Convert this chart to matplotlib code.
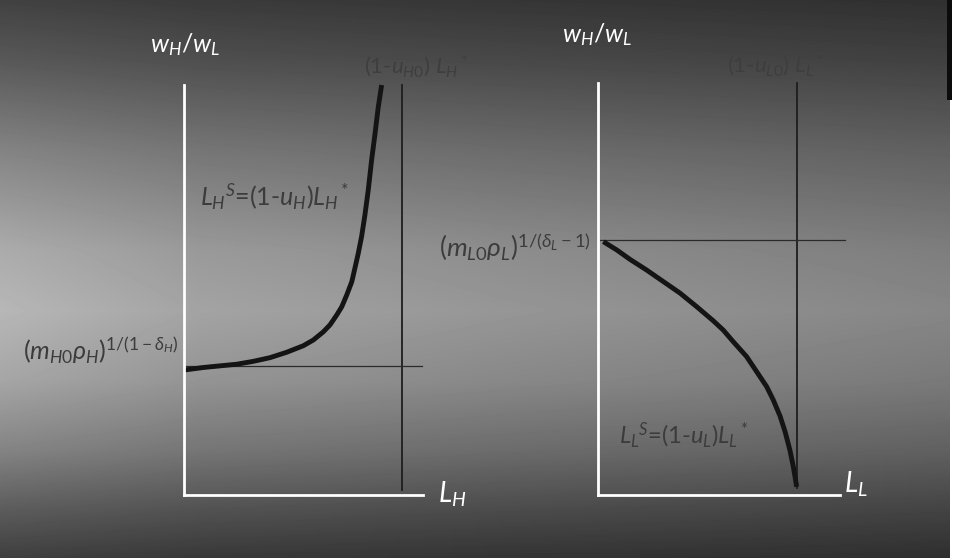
import numpy as np
import matplotlib
matplotlib.use("Agg")
import matplotlib.pyplot as plt

plt.rcParams['font.family'] = ['Lato', 'DejaVu Sans']
plt.rcParams['mathtext.fontset'] = 'custom'
plt.rcParams['mathtext.rm'] = 'Lato'
plt.rcParams['mathtext.it'] = 'Lato:italic'
plt.rcParams['mathtext.bf'] = 'Lato:bold'

# high-skill labour supply (left panel), L_H vs w_H/w_L, both scaled 0..100
LH = [0.4, 8.1, 15.1, 22.1, 29.0, 36.0, 42.9, 49.9, 54.1, 58.3, 61.1, 63.9,
      66.0, 68.1, 70.2, 71.5, 72.9, 74.3, 75.7, 77.1, 78.5, 79.9, 81.3, 82.7]
wH = [30.5, 31.1, 31.5, 31.9, 32.6, 33.5, 34.8, 36.4, 37.8, 39.8, 41.5, 43.9,
      45.9, 48.8, 52.0, 55.3, 58.9, 63.0, 68.3, 74.4, 81.7, 88.0, 94.7, 100]
LH_max = 91.2      # (1-u_H0) L_H*
wH_floor = 31.5    # (m_H0 rho_H)^(1/(1-delta_H))

# low-skill labour supply (right panel)
LL = [2.2, 7.7, 13.2, 20.1, 27.0, 33.9, 40.8, 47.6, 51.8, 55.9, 61.4, 65.6,
      69.7, 72.4, 75.2, 77.3, 79.3, 80.7, 82.1]
wL = [61.5, 59.5, 57.2, 54.6, 51.8, 49.0, 45.7, 42.3, 40.0, 37.2, 33.6, 29.9,
      26.3, 23.1, 19.2, 15.4, 10.9, 6.9, 2.0]
LL_max = 82.2      # (1-u_L0) L_L*
wL_cap = 61.9      # (m_L0 rho_L)^(1/(delta_L-1))

W, H = 959, 558
fig = plt.figure(figsize=(W / 100, H / 100), dpi=100)

# slide background: dark top and bottom, light band through the middle-left
bg = fig.add_axes([0, 0, 1, 1])
yy = np.arange(H)
xx = np.arange(W)
vert = np.interp(yy, [0, 60, 150, 250, 310, 380, 450, 510, 558],
                 [0.23, 0.31, 0.46, 0.60, 0.64, 0.58, 0.46, 0.32, 0.22])
horz = np.interp(xx, [0, 200, 500, 959], [1.12, 1.0, 0.92, 0.82])
img = np.clip(vert[:, None] * horz[None, :], 0, 1)
img[:, 950:] = 1.0
img[:100, 947:952] = 0.05
bg.imshow(img, cmap='gray', vmin=0, vmax=1, aspect='auto', interpolation='bilinear')
bg.axis('off')

dark = '#1e1e1e'
txt = '#3c3c3c'


def panel(rect):
    ax = fig.add_axes(rect)
    ax.set_xlim(0, 100)
    ax.set_ylim(0, 100)
    ax.patch.set_alpha(0)
    for s in ('top', 'right'):
        ax.spines[s].set_visible(False)
    for s in ('left', 'bottom'):
        ax.spines[s].set_color('white')
        ax.spines[s].set_linewidth(2)
    ax.set_xticks([])
    ax.set_yticks([])
    return ax


# left panel
ax1 = panel([184 / W, (H - 495) / H, 239 / W, 410 / H])
ax1.plot([LH_max, LH_max], [1.2, 100], color=dark, lw=1.3, clip_on=False)
ax1.plot([0, 99.6], [wH_floor, wH_floor], color='#2a2a2a', lw=0.9, clip_on=False)
ax1.plot(LH, wH, color='#141414', lw=3.5, solid_capstyle='butt',
         solid_joinstyle='round', clip_on=False)

# right panel
ax2 = panel([598 / W, (H - 495) / H, 242 / W, 412 / H])
ax2.plot([LL_max, LL_max], [1.7, 100], color=dark, lw=1.3, clip_on=False)
ax2.plot([0.8, 102], [wL_cap, wL_cap], color='#2a2a2a', lw=0.9, clip_on=False)
ax2.plot(LL, wL, color='#141414', lw=3.5, solid_capstyle='butt',
         solid_joinstyle='round', clip_on=False)


def ftext(x, y, s, **kw):
    fig.text(x / W, 1 - y / H, s, ha='center', va='center', **kw)


ftext(185, 45, r'$w_H$/$w_L$', color='white', fontsize=18)
ftext(597, 35, r'$w_H$/$w_L$', color='white', fontsize=18)
ftext(452, 494, r'$L_H$', color='white', fontsize=20)
ftext(856, 484, r'$L_L$', color='white', fontsize=20)

ftext(416, 66, r'(1-$u_{H0}$) $L_H$$^*$', color='#3e3e3e', fontsize=16)
ftext(775, 65, r'(1-$u_{L0}$) $L_L$$^*$', color='#3e3e3e', fontsize=16)

ftext(275, 197, r'$L_H$$^S$=(1-$u_H$)$L_H$$^*$', color=txt, fontsize=18)
ftext(684, 435, r'$L_L$$^S$=(1-$u_L$)$L_L$$^*$', color=txt, fontsize=17)

ftext(101, 350, r'$(m_{H0}\rho_H)^{1/(1-\delta_H)}$', color=txt, fontsize=18)
ftext(515, 247, r'$(m_{L0}\rho_L)^{1/(\delta_L-1)}$', color=txt, fontsize=19)

fig.savefig('out.png', dpi=100)
